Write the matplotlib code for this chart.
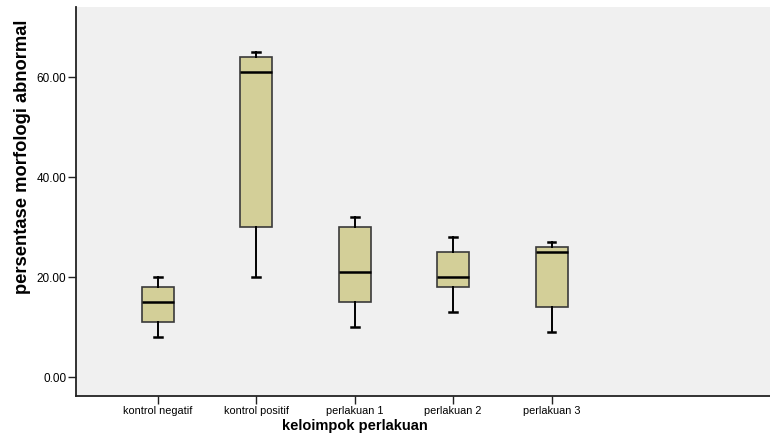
import matplotlib.pyplot as plt
from matplotlib.ticker import FormatStrFormatter

plt.rcParams['font.family'] = ['Liberation Sans', 'DejaVu Sans']

# data
groups = ['kontrol negatif', 'kontrol positif', 'perlakuan 1', 'perlakuan 2', 'perlakuan 3']
whisker_low = [8, 20, 10, 13, 9]
q1 = [11, 30, 15, 18, 14]
median = [15, 61, 21, 20, 25]
q3 = [18, 64, 30, 25, 26]
whisker_high = [20, 65, 32, 28, 27]

stats = []
for i, name in enumerate(groups):
    stats.append({'label': name, 'whislo': whisker_low[i], 'q1': q1[i], 'med': median[i],
                  'q3': q3[i], 'whishi': whisker_high[i], 'fliers': []})

fig = plt.figure(figsize=(7.7, 4.37), dpi=100)
ax = fig.add_axes([0.0987, 0.0938, 0.9013, 0.890])
ax.set_facecolor('#F0F0F0')

positions = list(range(1, len(groups) + 1))
ax.bxp(stats, positions=positions, widths=0.325, capwidths=0.08, patch_artist=True,
       showfliers=False,
       boxprops=dict(facecolor='#D3CF98', edgecolor='#3a3a3a', linewidth=1.2),
       medianprops=dict(color='black', linewidth=1.8),
       whiskerprops=dict(color='black', linewidth=1.4),
       capprops=dict(color='black', linewidth=1.8))

ax.set_xlim(0.167, 7.22)
ax.set_ylim(-3.8, 74)
ax.set_yticks([0, 20, 40, 60])
ax.yaxis.set_major_formatter(FormatStrFormatter('%.2f'))
ax.set_xticks(positions)
ax.set_xticklabels(groups)
ax.tick_params(axis='both', length=5.5, width=1, color='#222222', direction='out')
ax.tick_params(axis='y', labelsize=8.5, pad=1.5)
ax.tick_params(axis='x', labelsize=7.8, pad=2)

for side in ['top', 'right']:
    ax.spines[side].set_visible(False)
for side in ['left', 'bottom']:
    ax.spines[side].set_linewidth(1.3)
    ax.spines[side].set_color('#222222')

ax.set_ylabel('persentase morfologi abnormal', fontsize=13.2, fontweight='bold')
ax.yaxis.set_label_coords(-0.077, 0.614)
ax.set_xlabel('keloimpok perlakuan', fontsize=10.5, fontweight='bold')
ax.xaxis.set_label_coords(0.402, -0.077)
ax.xaxis.label.set_va('center')
ax.yaxis.label.set_va('center')

fig.savefig('out.png', dpi=100, facecolor='white')
